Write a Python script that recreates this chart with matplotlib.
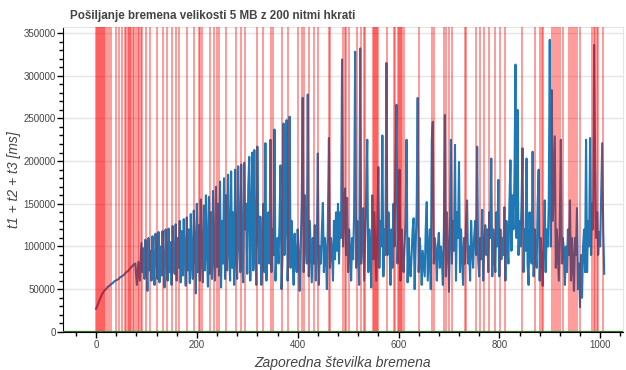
import matplotlib.pyplot as plt
import numpy as np
from matplotlib.ticker import MultipleLocator

# t1 + t2 + t3 [ms]
# smooth start, requests 0..87 (every 3rd)
ramp_y = [
    27000, 31000, 36000, 40000, 44000, 47000, 49000, 51000, 53000, 54000,
    56000, 57000, 59000, 60000, 61000, 62000, 64000, 65000, 66000, 68000,
    70000, 71000, 73000, 75000, 77000, 79000, 80000, 55000, 82000, 60000,
]
# noisy part, requests 90..1008 (every 2nd)
noisy_y = [
    104000, 70000, 98000, 62000, 108000, 85000, 48000, 110000, 72000, 95000,
    60000, 112000, 80000, 55000, 115000, 90000, 62000, 117000, 58000, 100000,
    66000, 118000, 75000, 52000, 120000,
    88000, 60000, 121000, 70000, 105000, 55000, 124000, 82000, 68000, 126000,
    60000, 110000, 75000, 130000, 58000, 118000, 66000, 132000, 90000, 54000,
    134000, 72000, 120000, 57000, 138000,
    80000, 62000, 142000, 100000, 45000, 150000, 70000, 125000, 60000, 155000,
    85000, 58000, 148000, 72000, 160000, 95000, 53000, 158000, 68000, 140000,
    62000, 165000, 88000, 60000, 170000,
    76000, 150000, 66000, 176000, 52000, 130000, 80000, 180000, 62000, 160000,
    72000, 184000, 98000, 60000, 188000, 75000, 140000, 55000, 190000, 85000,
    62000, 194000, 110000, 70000, 196000,
    80000, 58000, 198000, 120000, 150000, 68000, 170000, 205000, 60000, 130000,
    210000, 72000, 213000, 100000, 55000, 217000, 120000, 80000, 135000, 55000,
    100000, 150000, 70000, 221000, 60000,
    110000, 140000, 80000, 225000, 70000, 120000, 90000, 237000, 60000, 100000,
    110000, 80000, 130000, 195000, 50000, 90000, 244000, 90000, 130000, 248000,
    60000, 100000, 252000, 75000, 130000,
    95000, 55000, 115000, 85000, 70000, 120000, 90000, 48000, 100000, 150000,
    274000, 70000, 160000, 110000, 80000, 278000, 65000, 130000, 95000, 58000,
    110000, 80000, 125000, 60000, 100000,
    209000, 55000, 100000, 80000, 120000, 151000, 70000, 110000, 90000, 50000,
    130000, 227000, 75000, 110000, 95000, 60000, 130000, 85000, 140000, 95000,
    150000, 80000, 140000, 110000, 319000,
    100000, 140000, 168000, 90000, 157000, 70000, 120000, 95000, 60000, 110000,
    85000, 140000, 328000, 75000, 130000, 100000, 55000, 332000, 80000, 120000,
    145000, 60000, 110000, 160000, 225000,
    70000, 120000, 90000, 52000, 160000, 85000, 140000, 100000, 60000, 120000,
    193000, 75000, 130000, 100000, 230000, 65000, 120000, 90000, 315000, 90000,
    140000, 110000, 55000, 120000, 75000,
    150000, 100000, 190000, 266000, 80000, 130000, 190000, 60000, 120000, 90000,
    70000, 100000, 130000, 225000, 58000, 110000, 80000, 65000, 90000, 120000,
    133000, 50000, 100000, 140000, 274000,
    70000, 110000, 90000, 55000, 95000, 80000, 65000, 120000, 152000, 60000,
    90000, 120000, 50000, 225000, 246000, 80000, 110000, 95000, 60000, 100000,
    116000, 75000, 100000, 85000, 55000,
    120000, 254000, 65000, 140000, 100000, 47000, 110000, 225000, 80000, 130000,
    95000, 219000, 60000, 140000, 110000, 199000, 70000, 120000, 90000, 55000,
    110000, 80000, 130000, 154000, 80000,
    100000, 60000, 130000, 95000, 75000, 110000, 130000, 90000, 217000, 85000,
    65000, 110000, 85000, 143000, 60000, 100000, 125000, 90000, 120000, 70000,
    140000, 110000, 203000, 65000, 120000,
    90000, 70000, 140000, 100000, 178000, 65000, 120000, 85000, 110000, 90000,
    146000, 60000, 130000, 100000, 80000, 150000, 201000, 95000, 160000, 120000,
    180000, 313000, 110000, 260000, 90000,
    130000, 100000, 150000, 215000, 70000, 120000, 95000, 203000, 80000, 55000,
    140000, 100000, 80000, 211000, 65000, 120000, 90000, 75000, 150000, 190000,
    60000, 110000, 85000, 54000, 100000,
    154000, 70000, 120000, 100000, 150000, 342000, 100000, 283000, 130000, 180000,
    229000, 75000, 120000, 90000, 60000, 130000, 225000, 80000, 110000, 95000,
    55000, 100000, 70000, 120000, 90000,
    154000, 60000, 110000, 80000, 48000, 110000, 90000, 145000, 50000, 80000,
    29000, 90000, 40000, 100000, 120000, 70000, 225000, 70000, 130000, 100000,
    227000, 90000, 150000, 120000, 336000,
    200000, 110000, 140000, 90000, 117000, 100000, 160000, 221000, 120000, 68000,
]
# requests that failed (red vertical markers)
fail_x = [
    0, 2, 4, 5, 7, 9, 11, 13, 15, 17, 22, 26, 30, 40, 46, 52,
    57, 60, 63, 65, 68, 70, 73, 75, 80, 83, 86, 89, 92, 100, 107, 120,
    132, 140, 150, 158, 164, 180, 194, 204, 207, 210, 226, 234, 240, 243,
    257, 278, 287, 295, 320, 331, 348, 352, 368, 380, 401, 409, 413, 422,
    432, 440, 462, 465, 490, 494, 496, 502, 518, 526, 531, 534, 549, 551,
    553, 555, 557, 559, 578, 591, 594, 599, 601, 603, 605, 607, 610, 641,
    666, 671, 691, 694, 700, 706, 731, 734, 754, 762, 770, 780, 792, 801,
    812, 844, 871, 881, 884, 886, 905, 908, 913, 917, 921, 926, 939, 943,
    947, 951, 955, 959, 984, 987, 990, 993, 995, 1006,
]

x_vals = np.concatenate([np.arange(len(ramp_y)) * 3,
                         90 + np.arange(len(noisy_y)) * 2])
y_vals = ramp_y + noisy_y

plt.rcParams['font.family'] = ['Liberation Sans', 'DejaVu Sans']
fig, ax = plt.subplots(figsize=(6.26, 3.70), dpi=100)
fig.subplots_adjust(left=0.101, right=0.995, top=0.927, bottom=0.103)

ax.grid(True, axis='y', color='#e5e5e5', linewidth=1)
ax.set_axisbelow(True)
ax.plot(x_vals, y_vals, color='#1f77b4', linewidth=1.5, zorder=2)
ax.vlines(fail_x, 0, 1, transform=ax.get_xaxis_transform(),
          colors='red', alpha=0.5, linewidth=1.1, zorder=3)
ax.axhline(0, color='#2a6e2a', linewidth=1.6, zorder=4)

ax.set_xlim(-65, 1045)
ax.set_ylim(0, 357000)
ax.xaxis.set_major_locator(MultipleLocator(200))
ax.xaxis.set_minor_locator(MultipleLocator(40))
ax.yaxis.set_major_locator(MultipleLocator(50000))
ax.yaxis.set_minor_locator(MultipleLocator(10000))
ax.tick_params(which='major', length=4, width=1, color='black',
               labelsize=7, labelcolor='#444444', pad=1.5)
ax.tick_params(which='minor', length=2.8, width=1, color='black')

for s in ['top', 'right']:
    ax.spines[s].set_color('#e5e5e5')
for s in ['left', 'bottom']:
    ax.spines[s].set_color('black')

ax.set_xlabel('Zaporedna številka bremena', fontsize=10, style='italic',
              color='#444444')
ax.set_ylabel('t1 + t2 + t3 [ms]', fontsize=10, style='italic', color='#444444')
ax.xaxis.set_label_coords(0.5, -0.08)
ax.yaxis.set_label_coords(-0.076, 0.5)
ax.set_title('Pošiljanje bremena velikosti 5 MB z 200 nitmi hkrati',
             loc='left', x=0.012, fontsize=8.4, fontweight='bold',
             color='#444444')

fig.savefig('out.png', dpi=100)
